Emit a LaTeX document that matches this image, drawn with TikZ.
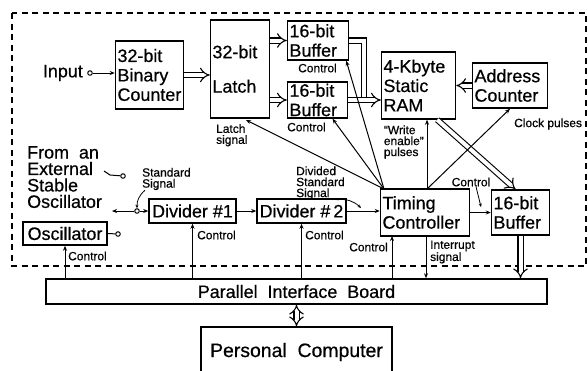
\documentclass[tikz,border=0pt]{standalone}
\usepackage{fontspec}
\setmainfont{Liberation Sans}[FakeBold=0.6]
\usetikzlibrary{arrows.meta}
\newcommand{\bfnt}{\fontsize{18}{19.5}\selectfont}
\newcommand{\xfnt}{\fontsize{18}{16.5}\selectfont}
\newcommand{\sfnt}{\fontsize{12}{11}\selectfont}
\tikzset{
  blk/.style={draw,line width=1.5bp,inner xsep=2bp,inner ysep=0pt,font=\bfnt},
  blkt/.style={blk,align=left,text width=#1},
  lbl/.style={inner sep=0pt,align=left,font=\sfnt},
  term/.style={circle,draw,line width=1bp,inner sep=0pt,minimum size=4.5bp,fill=white},
  wire/.style={line width=1bp},
  sig/.style={-{Stealth[length=5bp,width=4bp]},line width=1bp},
  ptr/.style={-{Stealth[length=3.5bp,width=3bp]},line width=0.8bp},
  bus/.style={double,double distance=4bp,line width=1.1bp,-{Implies}},
  bus2/.style={double,double distance=4bp,line width=1.1bp,{Implies}-{Implies}},
  busl/.style={double,double distance=4bp,line width=1.1bp},
  encl/.style={line width=1.3bp,dash pattern=on 6bp off 4.5bp},
}
\begin{document}
\begin{tikzpicture}[x=1bp,y=-1bp]
\useasboundingbox (0,0) rectangle (588,370);
\draw[encl] (12,13) rectangle (586,266);
\node[blkt=64bp,minimum height=68bp] (cnt) at (149.5,75) {32-bit\\Binary\\Counter};
\node[blkt=55bp,minimum height=98bp] (latch) at (240,69) {32-bit\\[15bp]Latch};
\node[blkt=57bp,minimum height=39bp] (bufa) at (318,40.5) {16-bit\\Buffer};
\node[blkt=56bp,minimum height=36bp] (bufb) at (317.5,100) {16-bit\\Buffer};
\node[blkt=70bp,minimum height=67bp] (ram) at (418.5,85.5) {4-Kbyte\\Static\\RAM};
\node[blkt=71bp,minimum height=45bp] (addr) at (510,85.5) {Address\\Counter};
\node[blk,inner xsep=1bp,minimum width=87bp,minimum height=24bp] (div1) at (192.5,211) {Divider \#1};
\node[blk,inner xsep=1bp,minimum width=89bp,minimum height=24bp] (div2) at (301.5,211) {Divider \#\,2};
\node[blkt=85bp,minimum height=47bp] (tc) at (425,212.5) {Timing\\Controller};
\node[blkt=54bp,minimum height=45bp] (bufc) at (520.5,212.5) {16-bit\\Buffer};
\node[blk,minimum width=84bp,minimum height=23bp] (osc) at (65,233.5) {Oscillator};
\node[blk,minimum width=501bp,minimum height=25bp] (pib) at (296.5,291.5) {Parallel\ \ Interface\ \ Board};
\node[blk,font=\fontsize{19.5}{20}\selectfont,minimum width=191bp,minimum height=50bp] (pc) at (296.5,352) {Personal\ \ Computer};

\node[font=\bfnt,inner sep=0pt,anchor=east] (inp) at (83,73) {Input};
\node[term] (tin) at (90,73) {};
\node[font=\xfnt,inner sep=0pt,anchor=north west,align=left] (ext) at (27,146) {From\ \ an\\External\\Stable\\Oscillator};
\coordinate (extc) at (104,171);
\node[term] (text) at (123,176) {};
\node[term] (tstd) at (137,211) {};
\coordinate (stdo) at (112,211);
\node[term] (tosc) at (118,234) {};
\coordinate (tcc) at (392,236);
\coordinate (tci) at (426,236);
\coordinate (we) at (427,189);
\coordinate (tcn) at (384,189);
\coordinate (ls) at (246,120);
\coordinate (mrg) at (364,100);
\coordinate (dvp) at (361,208);
\coordinate (ccp) at (481,207);

\node[lbl,anchor=west] (stdl) at (142,179) {Standard\\Signal};
\node[lbl,anchor=west] (divl) at (296,183) {Divided\\Standard\\Signal};
\node[lbl,anchor=north west] (lsl) at (216,124) {Latch\\signal};
\node[lbl,anchor=west] (cb) at (287,127) {Control};
\node[lbl,anchor=west] (ca) at (298,68) {Control};
\node[lbl,anchor=east] (wel) at (424,142) {“Write\\enable”\\pulses};
\node[lbl,anchor=west] (ckl) at (514,124) {Clock pulses};
\node[lbl] (cctl) at (471,182) {Control};
\node[lbl,anchor=west] (c1) at (68,256) {Control};
\node[lbl,anchor=west] (c2) at (197,235) {Control};
\node[lbl,anchor=west] (c3) at (305,235) {Control};
\node[lbl,anchor=east] (c4) at (388,247) {Control};
\node[lbl,anchor=west] (itl) at (430,252) {Interrupt\\signal};

\draw[sig] (tin) -- (tin -| cnt.west);
\draw[bus] (cnt.east) -- (cnt.east -| latch.west);
\draw[bus] (latch.east |- bufa) -- (bufa.west); \draw[bus] (latch.east |- bufb) -- (bufb.west);
\draw[busl] (bufa.east) -| (mrg);
\draw[bus] (bufb.east) -- (bufb.east -| ram.west);
\draw[bus] (addr.west) -- (ram.east);
\draw[bus] ([xshift=-19bp]ram.south east) -- ([xshift=-5bp]bufc.north);
\draw[bus] (bufc.south) -- (bufc.south |- pib.north);
\draw[bus2] (pib.south) -- (pc.north);
\draw[wire] (extc) -- ++(6,4) -- (text);
\draw[sig] (tstd) -- (div1.west); \draw[sig] (tstd) -- (stdo);
\draw[ptr] ([xshift=3bp]stdl.south west) to[bend right=25] (tstd.north);
\draw[wire] (osc.east) -- (tosc);
\draw[sig] (div1) -- (div2);
\draw[sig] (div2.east) -- (div2.east -| tc.west);
\draw[ptr] ([xshift=-8bp]divl.south east) to[bend left=25] (dvp);
\draw[sig] (tc.east |- bufc) -- (bufc.west);
\draw[ptr] ([xshift=5bp]cctl.south) -- (ccp);
\draw[sig] (pib.north -| osc) -- (osc.south);
\draw[sig] (pib.north -| div1) -- (div1.south);
\draw[sig] (pib.north -| div2) -- (div2.south);
\draw[sig] (tcc |- pib.north) -- (tcc);
\draw[sig] (tci) -- (tci |- pib.north);
\draw[sig] (tcn) -- (ls);
\draw[sig] (tcn) -- ([xshift=15bp]bufb.south);
\draw[sig] (tcn) -- ([xshift=-3bp]bufa.south east);
\draw[sig] (we) -- (we |- ram.south);
\draw[sig] (we) -- (addr.south);
\end{tikzpicture}
\end{document}
